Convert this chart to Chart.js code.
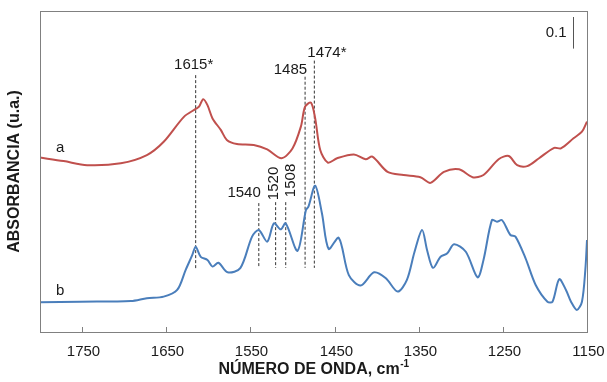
<!DOCTYPE html>
<html>
<head>
<meta charset="utf-8">
<script src="https://cdn.jsdelivr.net/npm/chart.js@4.4.1/dist/chart.umd.min.js"></script>
<style>
  html, body { margin: 0; padding: 0; background: #fff; }
  #wrap { width: 607px; height: 382px; }
</style>
</head>
<body>
<div id="wrap"><canvas id="spectra" width="607" height="382"></canvas></div>
<script>
/* =============================
   DATA
============================= */
const xTicks = [1750, 1650, 1550, 1450, 1350, 1250, 1150];

// spectrum a
const waveA = [1800, 1772, 1744, 1704, 1673, 1653, 1629, 1615, 1611, 1606, 1601, 1595, 1585, 1578,
  1566, 1546, 1530, 1513, 1500, 1490, 1485, 1478, 1473, 1467, 1458, 1447, 1427, 1413, 1405, 1387,
  1368, 1348, 1336, 1320, 1302, 1286, 1273, 1255, 1243, 1233, 1221, 1207, 1189, 1181, 1166, 1156, 1150];
const absA = [0.552, 0.541, 0.528, 0.534, 0.560, 0.602, 0.681, 0.706, 0.713, 0.737, 0.718, 0.676, 0.639, 0.608,
  0.595, 0.592, 0.578, 0.550, 0.581, 0.650, 0.713, 0.726, 0.676, 0.576, 0.536, 0.550, 0.562, 0.547, 0.555, 0.507,
  0.497, 0.490, 0.472, 0.507, 0.515, 0.490, 0.497, 0.547, 0.557, 0.528, 0.525, 0.550, 0.583, 0.581, 0.613, 0.634, 0.666];

// spectrum b
const waveB = [1800, 1752, 1692, 1673, 1653, 1637, 1627, 1619, 1615, 1609, 1601, 1595, 1588, 1577, 1562,
  1548, 1540, 1530, 1522, 1514, 1508, 1494, 1484, 1481, 1473, 1465, 1457, 1445, 1433, 1419, 1403, 1389,
  1375, 1364, 1355, 1346, 1340, 1333, 1324, 1316, 1308, 1294, 1280, 1273, 1263, 1257, 1251, 1241, 1235,
  1223, 1211, 1197, 1191, 1183, 1175, 1169, 1162, 1156, 1152, 1150];
const absB = [0.094, 0.096, 0.098, 0.107, 0.112, 0.133, 0.196, 0.244, 0.270, 0.238, 0.228, 0.207, 0.219, 0.189, 0.202,
  0.302, 0.323, 0.286, 0.344, 0.325, 0.344, 0.257, 0.386, 0.397, 0.463, 0.376, 0.263, 0.298, 0.180, 0.147, 0.189, 0.170,
  0.128, 0.165, 0.253, 0.323, 0.259, 0.203, 0.238, 0.249, 0.278, 0.254, 0.173, 0.228, 0.354, 0.349, 0.354, 0.307, 0.302,
  0.233, 0.149, 0.096, 0.096, 0.167, 0.133, 0.096, 0.070, 0.096, 0.196, 0.291];

// marked bands
const peakWaves = [1615, 1485, 1474, 1540, 1520, 1508];
const peakLabels = ["1615*", "1485", "1474*", "1540", "1520", "1508"];
const peakTop = [0.813, 0.808, 0.859, 0.408, 0.411, 0.411];
const peakBottom = [0.199, 0.203, 0.203, 0.203, 0.203, 0.203];

// 0.1 absorbance scale bar
const barWave = 1167;
const barTop = 0.997;
const barSize = 0.1;

/* =============================
   STYLE
============================= */
const FONT = "'Liberation Sans', Arial, sans-serif";
const TEXT = "#1a1a1a";
const FRAME = "#808080";
const RED = "#C0504D";
const BLUE = "#4A7EBB";

// label offsets (px) from the top of each dashed line
const peakLabelPos = [
  { dx: -2, dy: -10, align: "center" },
  { dx: 2, dy: -7, align: "right" },
  { dx: -7, dy: -8, align: "left" },
  { dx: 2, dy: -10, align: "right" },
  { dx: -2, dy: -2, rotate: true },
  { dx: 5, dy: -5, rotate: true }
];

const curveNames = [
  { text: "a", wave: 1776, abs: 0.584 },
  { text: "b", wave: 1776, abs: 0.131 }
];

function toPoints(xs, ys) {
  return xs.map((x, i) => ({ x: x, y: ys[i] }));
}

const datasets = [
  {
    data: toPoints(waveA, absA),
    borderColor: RED,
    borderWidth: 2,
    tension: 0.3,
    pointRadius: 0,
    order: 0
  },
  {
    data: toPoints(waveB, absB),
    borderColor: BLUE,
    borderWidth: 2,
    tension: 0.3,
    pointRadius: 0,
    order: 0
  }
];

peakWaves.forEach((w, i) => {
  datasets.push({
    data: [{ x: w, y: peakTop[i] }, { x: w, y: peakBottom[i] }],
    borderColor: "#333333",
    borderWidth: 1,
    borderDash: [3, 2],
    pointRadius: 0,
    order: 1
  });
});

/* =============================
   FRAME, TICKS AND TEXT
============================= */
const decorPlugin = {
  id: "decor",
  afterDraw(chart) {
    const c = chart.ctx;
    const a = chart.chartArea;
    const xs = chart.scales.x;
    const ys = chart.scales.y;

    c.save();
    // box
    c.strokeStyle = FRAME;
    c.lineWidth = 1;
    c.strokeRect(Math.round(a.left) + 0.5, Math.round(a.top) + 0.5,
      Math.round(a.right - a.left), Math.round(a.bottom - a.top));

    // inward tick marks and their labels
    c.fillStyle = TEXT;
    c.font = "15px " + FONT;
    c.textAlign = "center";
    c.textBaseline = "middle";
    xTicks.forEach(v => {
      const px = Math.round(xs.getPixelForValue(v)) + 0.5;
      c.beginPath();
      c.moveTo(px, a.bottom);
      c.lineTo(px, a.bottom - 5);
      c.stroke();
      c.fillText(String(v), px + 1, a.bottom + 20);
    });

    // scale bar
    const bx = Math.round(xs.getPixelForValue(barWave)) + 0.5;
    const by1 = ys.getPixelForValue(barTop);
    const by2 = ys.getPixelForValue(barTop - barSize);
    c.strokeStyle = "#555555";
    c.beginPath();
    c.moveTo(bx, by1);
    c.lineTo(bx, by2);
    c.stroke();

    c.textAlign = "right";
    c.fillText("0.1", bx - 7, (by1 + by2) / 2);

    // band labels
    peakWaves.forEach((w, i) => {
      const p = peakLabelPos[i];
      const lx = xs.getPixelForValue(w) + p.dx;
      const ly = ys.getPixelForValue(peakTop[i]) + p.dy;
      if (p.rotate) {
        c.save();
        c.translate(lx, ly);
        c.rotate(-Math.PI / 2);
        c.textAlign = "left";
        c.fillText(peakLabels[i], 0, 0);
        c.restore();
      } else {
        c.textAlign = p.align;
        c.fillText(peakLabels[i], lx, ly);
      }
    });

    // curve names
    c.textAlign = "center";
    curveNames.forEach(n => {
      c.fillText(n.text, xs.getPixelForValue(n.wave), ys.getPixelForValue(n.abs));
    });

    // axis titles
    c.font = "bold 16px " + FONT;
    c.save();
    c.translate(15, (a.top + a.bottom) / 2);
    c.rotate(-Math.PI / 2);
    c.textAlign = "center";
    c.fillText("ABSORBANCIA (u.a.)", 0, 0);
    c.restore();

    const main = "NÚMERO DE ONDA, cm";
    const sup = "-1";
    c.font = "bold 16px " + FONT;
    const w1 = c.measureText(main).width;
    c.font = "bold 10px " + FONT;
    const w2 = c.measureText(sup).width;
    const tx = (a.left + a.right) / 2 - (w1 + w2) / 2;
    const ty = 370;
    c.textAlign = "left";
    c.font = "bold 16px " + FONT;
    c.fillText(main, tx, ty);
    c.font = "bold 10px " + FONT;
    c.fillText(sup, tx + w1 + 0.5, ty - 6);
    c.restore();
  }
};

/* =============================
   CHART
============================= */
new Chart(document.getElementById("spectra"), {
  type: "line",
  data: { datasets: datasets },
  options: {
    responsive: false,
    animation: false,
    devicePixelRatio: 1,
    layout: { padding: { left: 40, right: 20, top: 11, bottom: 0 } },
    plugins: {
      legend: { display: false },
      tooltip: { enabled: false }
    },
    scales: {
      x: {
        type: "linear",
        reverse: true,
        min: 1150,
        max: 1800,
        afterBuildTicks: s => { s.ticks = xTicks.map(v => ({ value: v })); },
        afterFit: s => { s.height = 50; },
        grid: { display: false, drawTicks: false },
        border: { display: false },
        ticks: { display: false }
      },
      y: {
        display: false,
        min: 0,
        max: 1.016
      }
    }
  },
  plugins: [decorPlugin]
});
</script>
</body>
</html>
